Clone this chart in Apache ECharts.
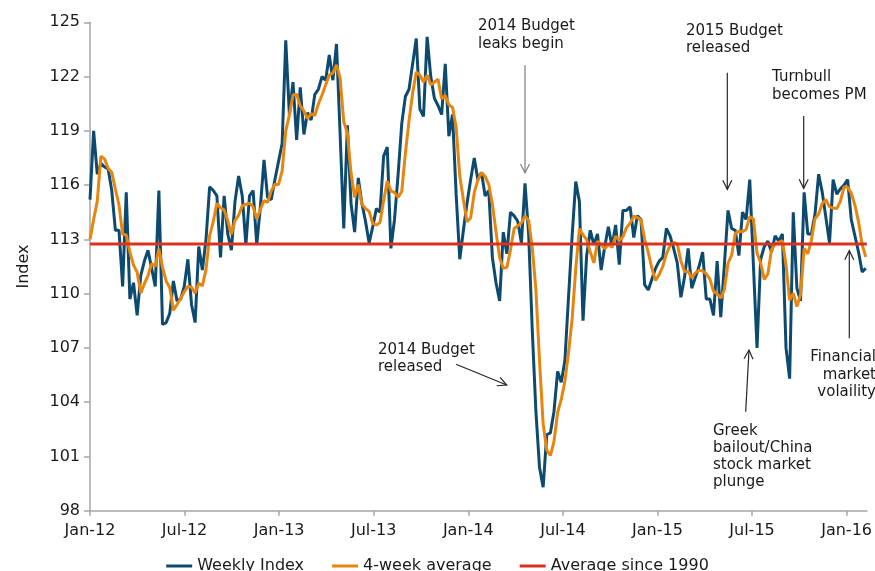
<!DOCTYPE html>
<html><head><meta charset="utf-8">
<script src="https://cdn.jsdelivr.net/npm/echarts@6/dist/echarts.min.js"></script>
<style>html,body{margin:0;padding:0;background:#fff}#c{width:875px;height:571px}</style>
</head><body><div id="c"></div>
<script>
// Weekly index, one value per week starting first week of Jan 2012
const weeklyIndex = [
115.2,119.0,116.6,117.2,117.0,116.9,115.7,113.5,113.5,110.4,
115.6,109.7,110.6,108.8,111.0,111.8,112.4,111.4,110.4,115.7,
108.3,108.4,108.9,110.7,109.6,109.7,110.4,111.9,109.4,108.4,
112.6,111.3,113.0,115.9,115.7,115.4,112.0,115.4,113.3,112.4,
115.1,116.5,115.4,112.7,115.4,115.7,112.7,114.8,117.4,115.3,
115.2,116.3,117.3,118.3,124.0,119.9,121.7,118.5,121.4,118.8,
120.0,119.6,121.0,121.3,122.0,121.8,123.2,121.8,123.8,118.8,
113.6,119.3,115.0,113.4,116.4,115.0,114.0,112.8,113.7,114.7,
114.5,117.6,118.1,112.5,114.1,116.6,119.4,120.9,121.3,122.7,
124.1,120.2,119.8,124.2,122.0,120.8,120.4,119.9,122.7,118.7,
119.9,115.5,111.9,113.5,115.0,116.3,117.5,116.3,116.7,115.4,
115.7,112.0,110.6,109.6,113.4,112.2,114.5,114.3,114.0,112.8,
116.1,113.3,108.0,103.5,100.4,99.3,102.2,102.3,103.5,105.7,
105.1,106.3,109.8,113.2,116.2,115.1,108.5,112.1,113.5,112.7,
113.3,111.3,112.6,113.7,112.6,113.8,111.6,114.6,114.6,114.8,
113.1,114.3,114.1,110.5,110.2,110.8,111.4,111.8,112.0,113.6,
113.2,112.5,111.7,109.8,110.9,112.5,110.3,110.9,111.5,112.3,
109.7,109.7,108.8,111.8,108.7,111.6,114.6,113.6,113.5,112.1,
114.5,114.1,116.3,111.6,107.0,111.9,112.6,112.9,112.3,113.2,
112.9,113.3,107.0,105.3,114.5,110.3,109.6,115.6,113.3,113.3,
114.4,116.6,115.6,114.2,112.8,116.3,115.5,115.8,116.0,116.3,
114.1,113.2,112.3,111.2,111.4
];
// 4-week average
const fourWeekAverage = [
113.0,114.1,115.1,117.6,117.45,116.93,116.7,115.78,114.9,113.28,
113.25,112.3,111.58,111.18,110.03,110.55,111.0,111.65,111.5,112.48,
111.45,110.7,110.33,109.08,109.4,109.73,110.1,110.4,110.35,110.03,
110.58,110.43,111.33,113.2,113.98,115.0,114.75,114.63,114.03,113.28,
114.05,114.33,114.85,114.93,115.0,114.8,114.13,114.65,115.15,115.05,
115.68,116.05,116.03,116.78,118.98,119.88,120.98,121.03,120.38,120.1,
119.68,119.95,119.85,120.48,120.98,121.53,122.08,122.2,122.65,121.9,
119.5,118.88,116.68,115.33,116.03,114.95,114.7,114.55,113.88,113.8,
113.93,115.13,116.23,115.68,115.58,115.33,115.65,117.75,119.55,121.08,
122.25,122.08,121.7,122.08,121.55,121.7,121.85,120.78,120.95,120.43,
120.3,119.2,116.5,115.2,113.98,114.18,115.58,116.28,116.7,116.48,
116.03,114.95,113.43,111.98,111.4,111.45,112.43,113.6,113.75,113.9,
114.3,114.05,112.55,110.23,106.3,102.8,101.35,101.05,101.83,103.43,
104.15,105.15,106.73,108.6,111.38,113.58,113.25,112.98,112.3,111.7,
112.9,112.7,112.48,112.73,112.55,113.18,112.93,113.15,113.65,113.9,
114.28,114.2,114.08,113.0,112.28,111.4,110.73,111.05,111.5,112.2,
112.65,112.83,112.75,111.8,111.23,111.23,110.88,111.15,111.3,111.25,
111.1,110.8,110.13,110.0,109.75,110.23,111.68,112.13,113.33,113.45,
113.43,113.55,114.25,114.13,112.25,111.7,110.78,111.1,112.43,112.75,
112.83,112.93,111.6,109.63,110.03,109.28,109.93,112.5,112.2,112.95,
114.15,114.4,114.98,115.2,114.8,114.73,114.7,115.1,115.9,115.9,
115.55,114.9,113.98,112.7,112.03
];
const averageSince1990 = 112.74;
const xTickLabels = ['Jan-12','Jul-12','Jan-13','Jul-13','Jan-14','Jul-14','Jan-15','Jul-15','Jan-16'];
const yTicks = [98,101,104,107,110,113,116,119,122,125];

const WEEKS_PER_HALF_YEAR = 365.25 / 14;
const X_MAX = 214.3;
const xTickValues = xTickLabels.map((_, i) => i * WEEKS_PER_HALF_YEAR);

const FONT = '"DejaVu Sans", Verdana, sans-serif';
const TXT = '#1a1a1a';

const chart = echarts.init(document.getElementById('c'), null, {renderer: 'canvas'});

function arrow(x1, y1, x2, y2, color) {
  const dx = x2 - x1, dy = y2 - y1, L = Math.hypot(dx, dy);
  const ux = dx / L, uy = dy / L, px = -uy, py = ux;
  const back = 9, half = 4.5;
  const bx = x2 - ux * back, by = y2 - uy * back;
  return [
    {type: 'line', shape: {x1, y1, x2, y2}, style: {stroke: color, lineWidth: 1.2}, z: 100},
    {type: 'polyline', shape: {points: [[bx + px * half, by + py * half], [x2, y2], [bx - px * half, by - py * half]]},
     style: {stroke: color, fill: null, lineWidth: 1.2}, z: 100}
  ];
}
function label(x, y, text, align) {
  return {type: 'text', x, y, z: 100,
    style: {text, font: '15px ' + FONT, fill: TXT, lineHeight: 17.3,
      align: align || 'left', verticalAlign: 'top', textAlign: align || 'left', textVerticalAlign: 'top'}};
}

const graphics = [].concat(
  label(478, 17.7, '2014 Budget\nleaks begin'),
  arrow(525, 65, 525, 173, '#7f7f7f'),
  label(686, 22, '2015 Budget\nreleased'),
  arrow(727.3, 72.7, 727.3, 189.3, '#262626'),
  label(772, 68.7, 'Turnbull\nbecomes PM'),
  arrow(803.7, 116, 803.7, 188.3, '#262626'),
  label(378, 341, '2014 Budget\nreleased'),
  arrow(456, 364.3, 506.7, 385, '#262626'),
  label(713, 422, 'Greek\nbailout/China\nstock market\nplunge'),
  arrow(745.7, 411.7, 749, 350, '#262626'),
  label(876, 348.7, 'Financial\nmarket\nvolaility', 'right'),
  arrow(849.3, 338.3, 849.3, 250.7, '#262626')
);

chart.setOption({
  animation: false,
  backgroundColor: '#fff',
  grid: {left: 90, right: 8, top: 22.3, bottom: 60.3},
  legend: {
    bottom: -8, left: 'center', itemGap: 28, itemWidth: 26, itemHeight: 3, icon: 'rect',
    textStyle: {fontFamily: FONT, fontSize: 16, color: TXT},
    data: ['Weekly Index', '4-week average', 'Average since 1990']
  },
  xAxis: {
    type: 'value', min: 0, max: X_MAX,
    axisLine: {show: true, lineStyle: {color: '#a6a6a6', width: 1.5}},
    axisTick: {show: true, length: 5, lineStyle: {color: '#a6a6a6', width: 1.5}, customValues: xTickValues},
    axisLabel: {
      customValues: xTickValues, margin: 12, fontFamily: FONT, fontSize: 16, color: TXT,
      formatter: v => xTickLabels[Math.round(v / WEEKS_PER_HALF_YEAR)] || ''
    },
    splitLine: {show: false}
  },
  yAxis: {
    type: 'value', min: yTicks[0], max: yTicks[yTicks.length - 1], interval: 3,
    name: 'Index', nameLocation: 'middle', nameGap: 58, nameRotate: 90,
    nameTextStyle: {fontFamily: FONT, fontSize: 16, color: TXT},
    axisLine: {show: true, lineStyle: {color: '#a6a6a6', width: 1.5}},
    axisTick: {show: true, length: 6, lineStyle: {color: '#a6a6a6', width: 1.5}},
    axisLabel: {margin: 10, fontFamily: FONT, fontSize: 16, color: TXT},
    splitLine: {show: false}
  },
  series: [
    {name: 'Weekly Index', type: 'line', symbol: 'none', z: 2,
     itemStyle: {color: '#0d4a70'}, lineStyle: {color: '#0d4a70', width: 3},
     data: weeklyIndex.map((v, i) => [i, v])},
    {name: '4-week average', type: 'line', symbol: 'none', z: 3,
     itemStyle: {color: '#e8850c'}, lineStyle: {color: '#e8850c', width: 3},
     data: fourWeekAverage.map((v, i) => [i, v])},
    {name: 'Average since 1990', type: 'line', symbol: 'none', z: 4,
     itemStyle: {color: '#d9321f'}, lineStyle: {color: '#d9321f', width: 3},
     data: [[0, averageSince1990], [X_MAX, averageSince1990]]}
  ],
  graphic: graphics
});
</script>
</body></html>
